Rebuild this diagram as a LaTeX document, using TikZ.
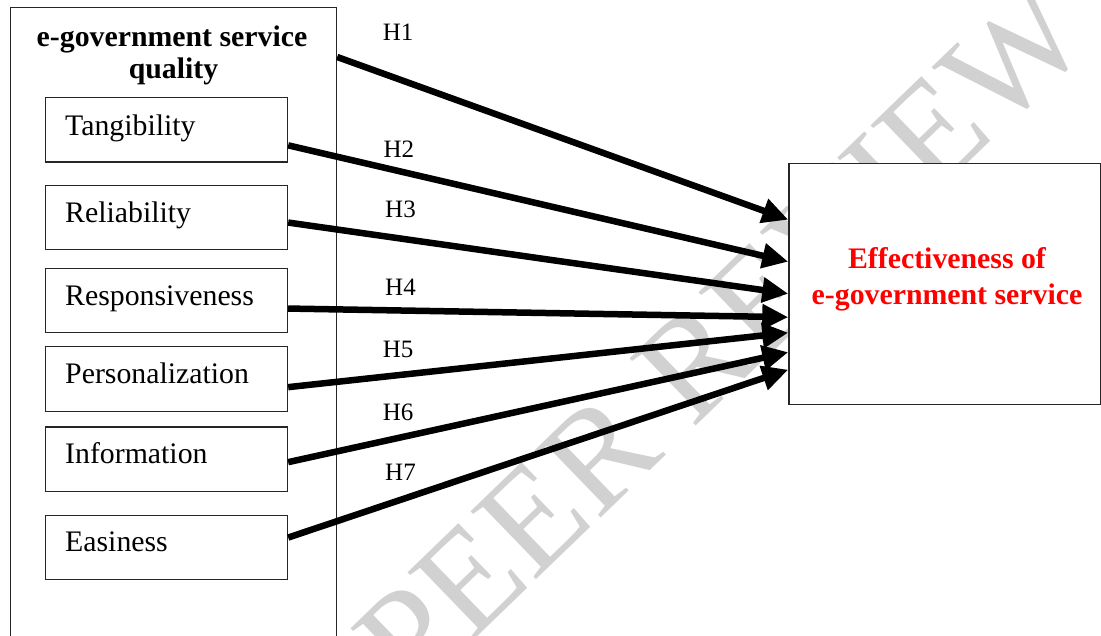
\documentclass[tikz,border=0pt]{standalone}
\usepackage{fontspec}
\setmainfont{Liberation Serif}
\usetikzlibrary{arrows.meta}
\begin{document}
\begin{tikzpicture}[x=1pt,y=-1pt,
  frame/.style={draw=black!85,line width=1.2pt,rectangle,inner sep=0pt},
  fbox/.style={frame,fill=white,minimum width=242pt,minimum height=64.5pt},
  lbl/.style={anchor=base west,inner sep=0pt,font=\fontsize{29.8}{34}\selectfont},
  hlbl/.style={anchor=base west,inner sep=0pt,font=\fontsize{25}{29}\selectfont},
  arr/.style={line width=6.5pt,-{Triangle[length=26pt,width=24pt]}},
  wm/.style={text=black!18,font=\fontsize{144}{144}\selectfont,inner sep=0pt}
]
\clip (0,0) rectangle (1101,636);
\useasboundingbox (0,0) rectangle (1101,636);
\fill[white] (0,0) rectangle (1101,636);
% watermark
\node[wm,rotate=44] (wmark) at (722,337) {PEER REVIEW};
% outer box
\node[frame,minimum width=326pt,minimum height=700pt,anchor=north west] (outer) at (10,7) {};
\node[anchor=base,inner sep=0pt,font=\fontsize{29.8}{34}\selectfont\bfseries] (t1) at (172,46.7) {e-government service};
\node[anchor=base,inner sep=0pt,font=\fontsize{29.8}{34}\selectfont\bfseries] (t2) at (173.5,78.3) {quality};
% inner boxes
\node[fbox,anchor=north west] (tang) at (45,97) {};
\node[fbox,anchor=north west] (reli) at (45,184.7) {};
\node[fbox,anchor=north west] (resp) at (45,267.7) {};
\node[fbox,anchor=north west] (pers) at (45,346.3) {};
\node[fbox,anchor=north west] (info) at (45,426.3) {};
\node[fbox,anchor=north west] (easy) at (45,514.7) {};
\node[lbl] (ltang) at ([xshift=20pt,yshift=-39pt]tang.north west) {Tangibility};
\node[lbl] (lreli) at ([xshift=20pt,yshift=-37.6pt]reli.north west) {Reliability};
\node[lbl] (lresp) at ([xshift=20pt,yshift=-38.3pt]resp.north west) {Responsiveness};
\node[lbl] (lpers) at ([xshift=20pt,yshift=-37pt]pers.north west) {Personalization};
\node[lbl] (linfo) at ([xshift=20pt,yshift=-37pt]info.north west) {Information};
\node[lbl] (leasy) at ([xshift=20pt,yshift=-37pt]easy.north west) {Easiness};
% effect box
\node[frame,fill=white,minimum width=312pt,minimum height=241.5pt,anchor=north west] (eff) at (788.3,162.7) {};
\node[anchor=base,inner sep=0pt,text=red,font=\fontsize{29.8}{34}\selectfont\bfseries] (e1) at (947,269) {Effectiveness of};
\node[anchor=base,inner sep=0pt,text=red,font=\fontsize{29.8}{34}\selectfont\bfseries] (e2) at (947,304.3) {e-government service};
% arrows
\draw[arr] ([yshift=-50pt]outer.north east) -- ([yshift=-57pt]eff.north west);
\draw[arr] ([yshift=-15.5pt]tang.east) -- ([yshift=-99pt]eff.north west);
\draw[arr] ([yshift=-5pt]reli.east) -- ([yshift=-131pt]eff.north west);
\draw[arr] ([yshift=-8pt]resp.east) -- ([yshift=-154.5pt]eff.north west);
\draw[arr] ([yshift=-8pt]pers.east) -- ([yshift=-170pt]eff.north west);
\draw[arr] ([yshift=-3pt]info.east) -- ([yshift=-189.5pt]eff.north west);
\draw[arr] ([yshift=10pt]easy.east) -- ([yshift=-207pt]eff.north west);
% labels
\node[hlbl] (h1) at (382.7,40.7) {H1};
\node[hlbl] (h2) at (383.3,157.3) {H2};
\node[hlbl] (h3) at (385,217.3) {H3};
\node[hlbl] (h4) at (385,296) {H4};
\node[hlbl] (h5) at (382.7,357.3) {H5};
\node[hlbl] (h6) at (382.7,420.7) {H6};
\node[hlbl] (h7) at (385,480) {H7};
\end{tikzpicture}
\end{document}
